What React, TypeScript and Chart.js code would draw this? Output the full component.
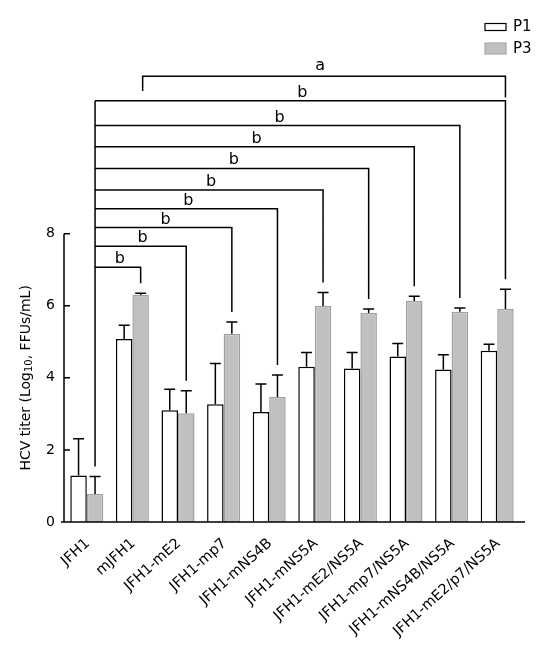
import React, { useEffect, useRef } from "react";
import { Chart, registerables } from "chart.js";

Chart.register(...registerables);

const categories = [
  "JFH1",
  "mJFH1",
  "JFH1-mE2",
  "JFH1-mp7",
  "JFH1-mNS4B",
  "JFH1-mNS5A",
  "JFH1-mE2/NS5A",
  "JFH1-mp7/NS5A",
  "JFH1-mNS4B/NS5A",
  "JFH1-mE2/p7/NS5A",
];
const p1Values = [1.29, 5.08, 3.1, 3.27, 3.05, 4.31, 4.26, 4.59, 4.23, 4.75];
const p1Errors = [1.02, 0.38, 0.58, 1.13, 0.78, 0.39, 0.44, 0.36, 0.41, 0.18];
const p3Values = [0.78, 6.3, 3.02, 5.22, 3.47, 5.99, 5.8, 6.13, 5.83, 5.91];
const p3Errors = [0.48, 0.05, 0.62, 0.33, 0.61, 0.38, 0.11, 0.13, 0.11, 0.55];
const yTicks = [0, 2, 4, 6, 8];

// significance brackets from JFH1 (index 0) to each target group
const bracketTargets = [1, 2, 3, 4, 5, 6, 7, 8, 9];
const bracketLevels = [7.07, 7.65, 8.17, 8.69, 9.21, 9.81, 10.41, 11.0, 11.69];
const bracketLabels = ["b", "b", "b", "b", "b", "b", "b", "b", "b"];
// bracket "a" between mJFH1 and JFH1-mE2/p7/NS5A
const aBracketFrom = 1;
const aBracketTo = 9;
const aBracketLevel = 12.37;
const aBracketLeftEnd = 11.96;
const aBracketRightEnd = 11.78;
const aBracketLabel = "a";

const FONT = "'DejaVu Sans', Verdana, sans-serif";

const overlayPlugin = {
  id: "overlay",
  afterDatasetsDraw(chart: any) {
    const ctx = chart.ctx as CanvasRenderingContext2D;
    const ys = chart.scales.y;
    const area = chart.chartArea;
    ctx.save();
    ctx.strokeStyle = "#000";
    ctx.lineWidth = 1.5;

    // error bars
    const sets: [number[], number[]][] = [
      [p1Values, p1Errors],
      [p3Values, p3Errors],
    ];
    sets.forEach(([vals, errs], di) => {
      const meta = chart.getDatasetMeta(di);
      meta.data.forEach((el: any, i: number) => {
        const x = el.x;
        const y0 = ys.getPixelForValue(vals[i]);
        const y1 = ys.getPixelForValue(vals[i] + errs[i]);
        ctx.beginPath();
        ctx.moveTo(x, y0);
        ctx.lineTo(x, y1);
        ctx.moveTo(x - 5.5, y1);
        ctx.lineTo(x + 5.5, y1);
        ctx.stroke();
      });
    });

    // axes
    ctx.beginPath();
    ctx.moveTo(area.left - 3, area.bottom);
    ctx.lineTo(area.right + 5, area.bottom);
    ctx.moveTo(area.left, area.bottom);
    ctx.lineTo(area.left, ys.getPixelForValue(yTicks[yTicks.length - 1]));
    yTicks.forEach((t) => {
      if (t === 0) return;
      const py = ys.getPixelForValue(t);
      ctx.moveTo(area.left, py);
      ctx.lineTo(area.left + 6, py);
    });
    ctx.stroke();

    // brackets
    const meta3 = chart.getDatasetMeta(1);
    const gap = 10;
    const leftX = meta3.data[0].x;
    const leftBottom = ys.getPixelForValue(p3Values[0] + p3Errors[0]) - gap;
    const topLevel = Math.max(...bracketLevels);
    ctx.beginPath();
    ctx.moveTo(leftX, leftBottom);
    ctx.lineTo(leftX, ys.getPixelForValue(topLevel));
    bracketTargets.forEach((t, k) => {
      const rx = meta3.data[t].x;
      const ly = ys.getPixelForValue(bracketLevels[k]);
      const ry = ys.getPixelForValue(p3Values[t] + p3Errors[t]) - gap;
      ctx.moveTo(leftX, ly);
      ctx.lineTo(rx, ly);
      ctx.lineTo(rx, ry);
    });
    const ax1 = meta3.data[aBracketFrom].x + 2;
    const ax2 = meta3.data[aBracketTo].x;
    const ay = ys.getPixelForValue(aBracketLevel);
    ctx.moveTo(ax1, ys.getPixelForValue(aBracketLeftEnd));
    ctx.lineTo(ax1, ay);
    ctx.lineTo(ax2, ay);
    ctx.lineTo(ax2, ys.getPixelForValue(aBracketRightEnd));
    ctx.stroke();

    ctx.fillStyle = "#000";
    ctx.font = `16px ${FONT}`;
    ctx.textAlign = "center";
    ctx.textBaseline = "alphabetic";
    bracketTargets.forEach((t, k) => {
      const rx = meta3.data[t].x;
      const ly = ys.getPixelForValue(bracketLevels[k]);
      ctx.fillText(bracketLabels[k], (leftX + rx) / 2 + 2, ly - 4);
    });
    ctx.fillText(aBracketLabel, (ax1 + ax2) / 2 - 4, ay - 6);

    // y-axis title with subscript
    const cy = (ys.getPixelForValue(0) + ys.getPixelForValue(8)) / 2;
    ctx.translate(26, cy);
    ctx.rotate(-Math.PI / 2);
    const parts: [string, number, number][] = [
      ["HCV titer (Log", 14, 0],
      ["10", 10, 3],
      [", FFUs/mL)", 14, 0],
    ];
    let total = 0;
    parts.forEach(([s, size]) => {
      ctx.font = `${size}px ${FONT}`;
      total += ctx.measureText(s).width;
    });
    let px = -total / 2;
    ctx.textAlign = "left";
    ctx.textBaseline = "middle";
    parts.forEach(([s, size, dy]) => {
      ctx.font = `${size}px ${FONT}`;
      ctx.fillText(s, px, dy);
      px += ctx.measureText(s).width;
    });
    ctx.restore();

    // legend
    ctx.save();
    ctx.lineWidth = 1.2;
    ctx.fillStyle = "#fff";
    ctx.strokeStyle = "#000";
    ctx.fillRect(485, 23.5, 21, 7);
    ctx.strokeRect(485, 23.5, 21, 7);
    ctx.fillStyle = "#c0c0c0";
    ctx.strokeStyle = "#a8a8a8";
    ctx.fillRect(485, 43, 21, 11);
    ctx.strokeRect(485, 43, 21, 11);
    ctx.fillStyle = "#000";
    ctx.font = `15px ${FONT}`;
    ctx.textAlign = "left";
    ctx.textBaseline = "middle";
    ctx.fillText("P1", 513, 27.5);
    ctx.fillText("P3", 513, 48.7);
    ctx.restore();
  },
};

export default function App() {
  const ref = useRef<HTMLCanvasElement>(null);
  useEffect(() => {
    if (!ref.current) return;
    const chart = new Chart(ref.current, {
      type: "bar",
      data: {
        labels: categories,
        datasets: [
          {
            label: "P1",
            data: p1Values,
            backgroundColor: "#ffffff",
            borderColor: "#000000",
            borderWidth: 1.5,
          },
          {
            label: "P3",
            data: p3Values,
            backgroundColor: "#c0c0c0",
            borderColor: "#a0a0a0",
            borderWidth: 1.5,
          },
        ],
      },
      options: {
        animation: false,
        responsive: false,
        devicePixelRatio: 1,
        layout: { padding: { top: 13, right: 32, left: 0, bottom: 0 } },
        datasets: {
          bar: { categoryPercentage: 0.724, barPercentage: 1.0 },
        },
        plugins: {
          legend: { display: false },
          tooltip: { enabled: false },
          title: { display: false },
        },
        scales: {
          x: {
            grid: { display: false, drawTicks: false },
            border: { display: false },
            ticks: {
              autoSkip: false,
              maxRotation: 42,
              minRotation: 42,
              padding: 13,
              labelOffset: 1,
              color: "#000",
              font: { family: FONT, size: 14.5 },
            },
            afterFit: (s: any) => {
              s.height = 130;
            },
          },
          y: {
            min: 0,
            max: 14,
            grid: { display: false, drawTicks: false },
            border: { display: false },
            ticks: {
              padding: 9,
              color: "#000",
              font: { family: FONT, size: 14 },
            },
            afterBuildTicks: (s: any) => {
              s.ticks = yTicks.map((v) => ({ value: v }));
            },
            afterFit: (s: any) => {
              s.width = 64;
            },
          },
        },
      },
      plugins: [overlayPlugin],
    });
    return () => chart.destroy();
  }, []);
  return (
    <div style={{ position: "absolute", left: 0, top: 0, width: 552, height: 652, background: "#fff" }}>
      <canvas ref={ref} width={552} height={652} />
    </div>
  );
}
